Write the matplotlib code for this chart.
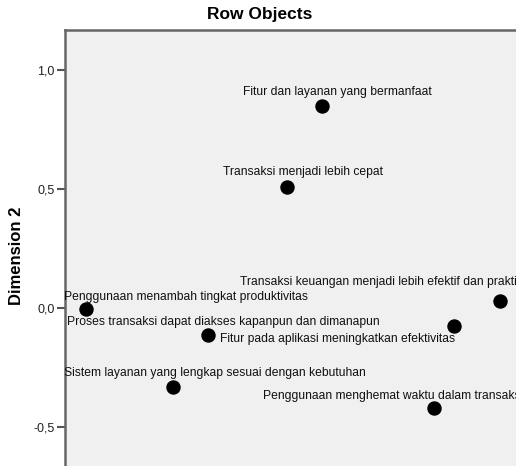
import matplotlib
matplotlib.use("Agg")
import matplotlib.pyplot as plt

# row objects (dimension 1 / dimension 2 scores)
labels = [
    "Penggunaan menambah tingkat produktivitas",
    "Proses transaksi dapat diakses kapanpun dan dimanapun",
    "Fitur pada aplikasi meningkatkan efektivitas",
    "Sistem layanan yang lengkap sesuai dengan kebutuhan",
    "Penggunaan menghemat waktu dalam transaksi",
    "Transaksi keuangan menjadi lebih efektif dan praktis",
    "Fitur dan layanan yang bermanfaat",
    "Transaksi menjadi lebih cepat",
]
dim1 = [-0.910, -0.396, 0.639, -0.543, 0.555, 0.833, 0.084, -0.064]
dim2 = [-0.004, -0.114, -0.076, -0.332, -0.421, 0.029, 0.850, 0.509]
yticks = [-0.5, 0.0, 0.5, 1.0]
ytick_labels = ["-0,5", "0,0", "0,5", "1,0"]

# label offsets from the point, in pixels (left edge, vertical centre)
offsets = [(-22, 12), (-141, 13), (-234, -13), (-109, 14),
           (-171, 12), (-260, 19), (-79, 14), (-64, 15)]

plt.rcParams['font.family'] = ['Liberation Sans', 'DejaVu Sans']

W, H = 516, 466
fig = plt.figure(figsize=(W / 100, H / 100), dpi=100)
left, top = 64.5, 30
ax = fig.add_axes([left / W, 0, 1 - left / W, 1 - top / H])
ax.set_facecolor("#f0f0f0")

ax.scatter(dim1, dim2, s=88, color="black", zorder=3, clip_on=False)
for x, y, t, (dx, dy) in zip(dim1, dim2, labels, offsets):
    ax.annotate(t, (x, y), xytext=(dx, dy), textcoords="offset pixels",
                ha="left", va="center", fontsize=8.7, color="#111111",
                annotation_clip=False)

ax.set_xlim(-1.0, 0.900)
ax.set_ylim(-0.665, 1.170)
ax.set_yticks(yticks)
ax.set_yticklabels(ytick_labels, fontsize=9, color="#222222")
ax.set_xticks([])
ax.tick_params(axis="y", length=6, width=1.5, color="#555555", pad=1)

for side in ["right", "bottom"]:
    ax.spines[side].set_visible(False)
for side in ["left", "top"]:
    ax.spines[side].set_color("#666666")
    ax.spines[side].set_linewidth(1.8)

fig.text(260 / W, 1 - 15 / H, "Row Objects", ha="center", va="center",
         fontsize=12.5, fontweight="bold")
fig.text(17 / W, 1 - 256 / H, "Dimension 2", ha="center", va="center",
         rotation=90, fontsize=12, fontweight="bold")

fig.savefig("out.png", dpi=100)
